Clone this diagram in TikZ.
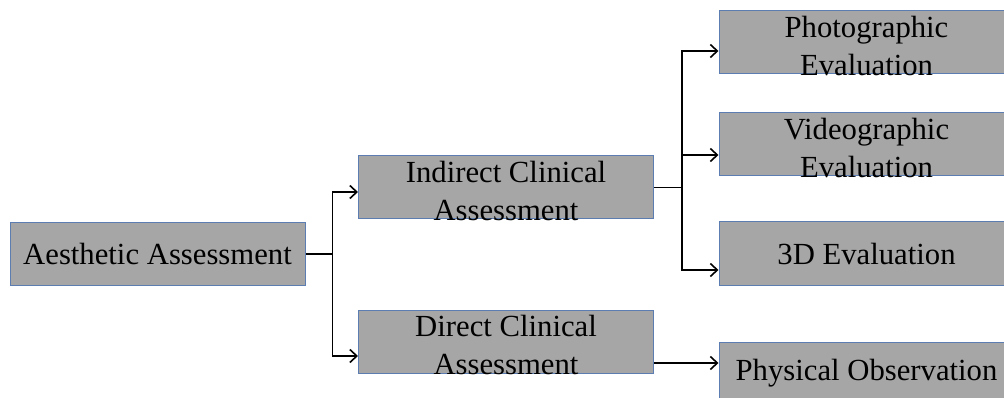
\documentclass[tikz,border=0pt]{standalone}
\usepackage{fontspec}
\setmainfont{Liberation Serif}
\usetikzlibrary{arrows.meta,calc}
\definecolor{boxfill}{HTML}{A6A6A6}
\definecolor{boxline}{HTML}{5B7DB1}
\begin{document}
\begin{tikzpicture}[x=1pt,y=-1pt,
  txt/.style={inner sep=0pt,align=center,
    font=\fontsize{30.7pt}{38pt}\selectfont},
  box/.style={txt,draw=boxline,line width=1pt,fill=boxfill,minimum width=295pt,
    minimum height=63pt},
  twoline/.style={label={[txt,yshift=-3.5pt]center:#1}},
  link/.style={line width=1.8pt,black},
  arr/.style={link,-{Straight Barb[length=7pt,width=13pt,line width=1.6pt]}}]
\clip (0,0) rectangle (1004,398);
\fill[white] (0,0) rectangle (1004,398);

% level 0
\node[box] (aes) at (157.5,254) {Aesthetic Assessment};
% level 1
\node[box,twoline={Indirect Clinical\\Assessment}] (ind) at (506,187.5) {};
\node[box,twoline={Direct Clinical\\Assessment}] (dir) at (506,341.5) {};
% level 2
\node[box,twoline={Photographic\\Evaluation}] (pho) at (866.5,42.5) {};
\node[box,twoline={Videographic\\Evaluation}] (vid) at (866.5,144.5) {};
\node[box] (thr) at (866.5,253.5) {3D Evaluation};
\node[box] (phy) at (866.5,373.5) {Physical Observation};

% branching from the root
\coordinate (j1) at ($(aes.east)+(27,0)$);
\draw[link] (aes.east) -- (j1);
\draw[arr] (j1) |- ($(ind.west)+(0,4.5)$);
\draw[arr] (j1) |- ($(dir.west)+(0,14.5)$);

% branching from the indirect assessment
\coordinate (j2) at ($(ind.east)+(28,0)$);
\draw[link] (ind.east) -- (j2);
\draw[arr] (j2) |- ($(pho.west)+(0,8.5)$);
\draw[arr] (j2) |- ($(vid.west)+(0,10.5)$);
\draw[arr] (j2) |- ($(thr.west)+(0,16.5)$);

% direct assessment
\draw[arr] ($(dir.east)+(0,21.5)$) -- ($(phy.west)+(0,-10.5)$);
\end{tikzpicture}
\end{document}
